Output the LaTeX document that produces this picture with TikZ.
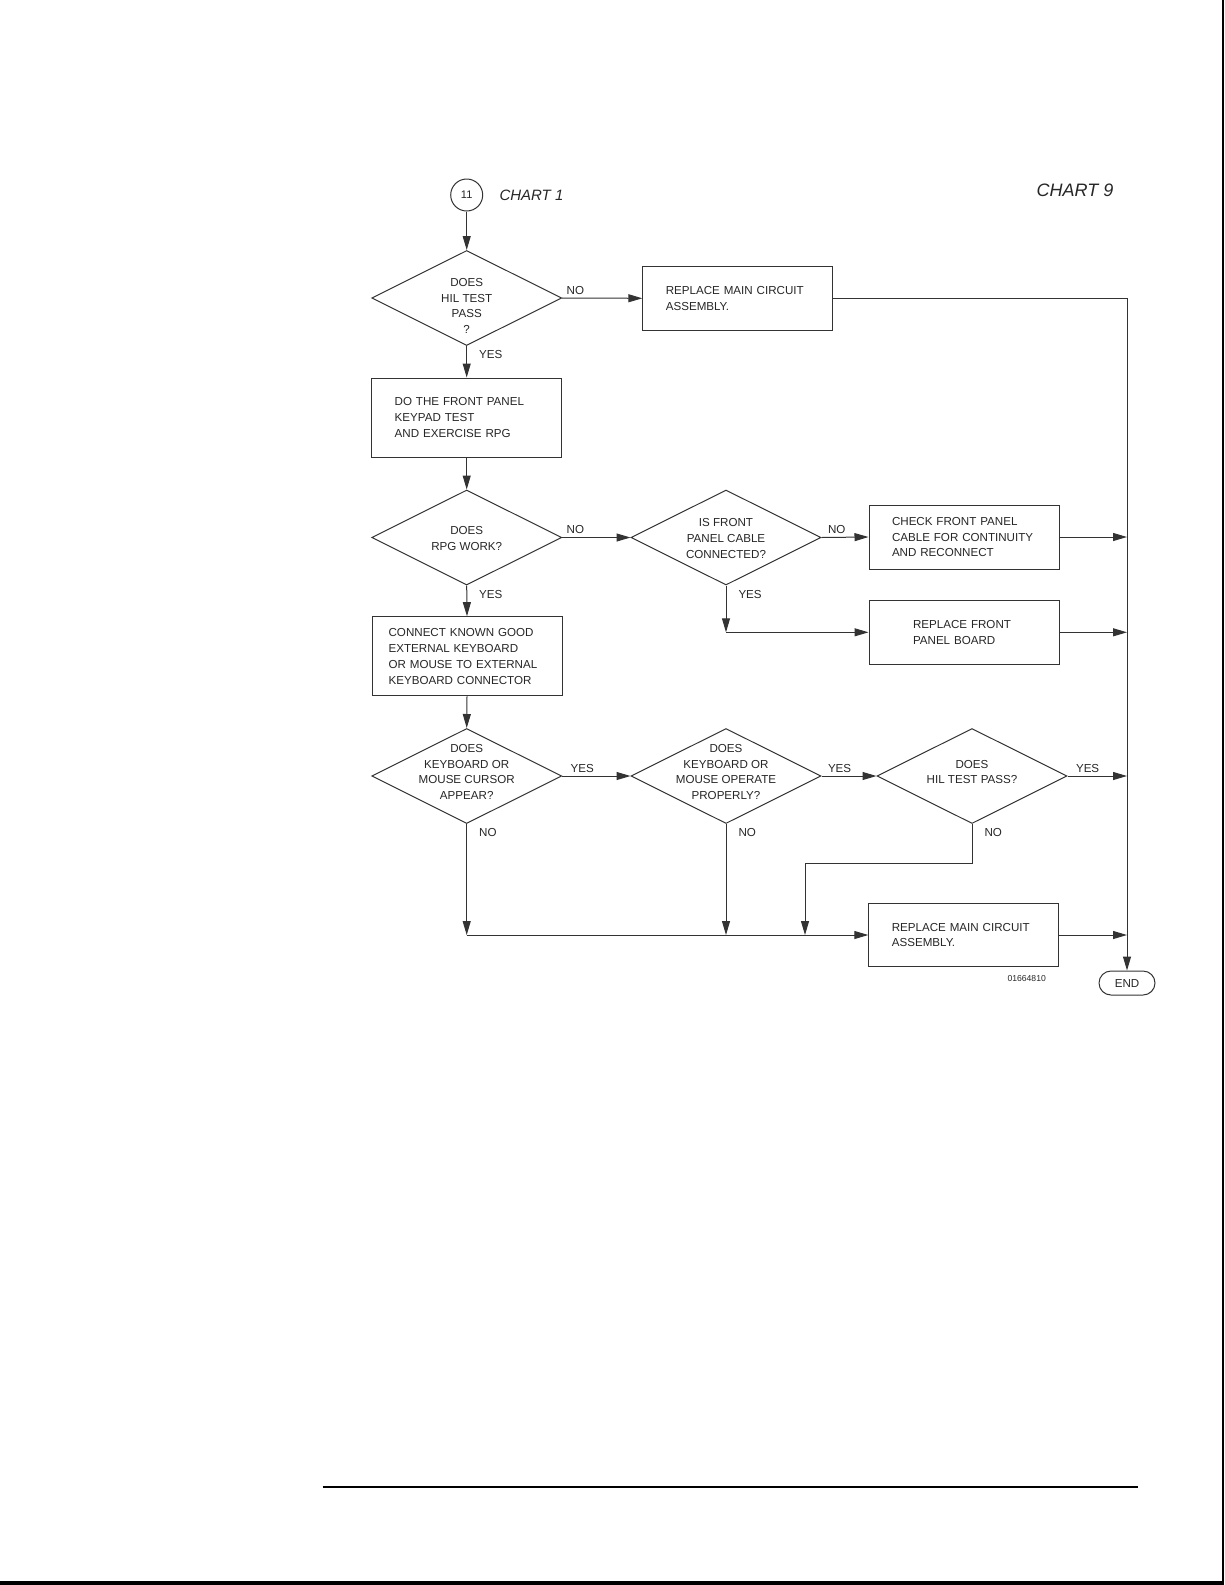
\documentclass[tikz,border=0pt]{standalone}
\usepackage{fontspec}
\setmainfont{Liberation Sans}
\usetikzlibrary{shapes.geometric,arrows.meta}
\newcommand{\tx}{\fontsize{5.8}{7.9}\selectfont}
\tikzset{
  dec/.style={diamond,draw,minimum width=95pt,minimum height=47.5pt,inner sep=0pt},
  dtxt/.style={align=center,font=\tx,inner sep=0pt},
  blk/.style={rectangle,draw,minimum height=31.7pt,inner ysep=0pt,inner xsep=11.5pt,
    text width=72pt,align=left,font=\tx},
  flag/.style={font=\tx,inner sep=1.5pt},
  arr/.style={-{Triangle[length=7pt,width=4pt]}},
}

\begin{document}
\begin{tikzpicture}[x=0.5pt,y=-0.5pt,draw=black!80,text=black!85,line width=0.5pt]
\useasboundingbox (0,0) rectangle (1225,1585);
% page frame
\draw[black,line width=1pt] (1222.5,0) -- (1222.5,1585);
\draw[black,line width=2pt] (0,1583) -- (1223.5,1583);
\draw[black,line width=1pt] (322.6,1487) -- (1138.3,1487);

\node [circle,draw,minimum size=16pt,inner sep=0pt,font=\fontsize{5.5}{6}\selectfont] (n11) at (466.7,195) {11};
\node [anchor=west,inner sep=0pt,font=\fontsize{7.5}{9}\selectfont\itshape] (c1) at (499,195) {CHART 1};
\node [inner sep=0pt,font=\fontsize{9}{11}\selectfont\itshape] (c9) at (1075,190) {CHART 9};

\node [dec,label={[dtxt,yshift=-4pt]center:DOES\\HIL TEST\\PASS\\?}] (hil) at (466.7,298) {};
\node [blk] (main) at (737.8,298.3) {REPLACE MAIN CIRCUIT\\ASSEMBLY.};
\node [blk,minimum height=39.5pt] (kpd) at (466.7,417.5) {DO THE FRONT PANEL\\KEYPAD TEST\\AND EXERCISE RPG};
\node [dec,label={[dtxt,yshift=-0.3pt]center:DOES\\RPG WORK?}] (rpg) at (466.7,537.5) {};
\node [dec,label={[dtxt,yshift=-0.5pt]center:IS FRONT\\PANEL CABLE\\CONNECTED?}] (cbl) at (726,537.5) {};
\node [blk,minimum height=32pt] (chk) at (964,537) {CHECK FRONT PANEL\\CABLE FOR CONTINUITY\\AND RECONNECT};
\node [blk,inner xsep=22pt,text width=51pt] (fpb) at (964,632.3) {REPLACE FRONT\\PANEL BOARD};
\node [blk,minimum height=39.6pt,inner xsep=8.3pt,text width=78.4pt] (ext) at (467,656.3)
  {CONNECT KNOWN GOOD\\EXTERNAL KEYBOARD\\OR MOUSE TO EXTERNAL\\KEYBOARD CONNECTOR};
\node [dec,label={[dtxt,yshift=2pt]center:DOES\\KEYBOARD OR\\MOUSE CURSOR\\APPEAR?}] (cur) at (466.7,776) {};
\node [dec,label={[dtxt,yshift=2pt]center:DOES\\KEYBOARD OR\\MOUSE OPERATE\\PROPERLY?}] (opr) at (726,776) {};
\node [dec,label={[dtxt,yshift=2pt]center:DOES\\HIL TEST PASS?}] (hil2) at (972,776) {};
\node [blk] (main2) at (963.8,935) {REPLACE MAIN CIRCUIT\\ASSEMBLY.};
\node [draw,rounded corners=6pt,minimum width=28pt,minimum height=12pt,inner sep=0pt,font=\tx] (end) at (1127,983) {END};
\node [inner sep=0pt,font=\fontsize{4.3}{5}\selectfont] (fig) at (1026.7,978.3) {01664810};
\coordinate (jog) at (805,863.3);

% branch labels
\node [flag,anchor=south west,xshift=0.5pt] (hilno) at (hil.east) {NO};
\node [flag,anchor=north west,xshift=4.5pt,yshift=-0.5pt] (hilyes) at (hil.south) {YES};
\node [flag,anchor=south west,xshift=0.5pt] (rpgno) at (rpg.east) {NO};
\node [flag,anchor=north west,xshift=4.5pt,yshift=-0.5pt] (rpgyes) at (rpg.south) {YES};
\node [flag,anchor=south west,xshift=1.5pt] (cblno) at (cbl.east) {NO};
\node [flag,anchor=north west,xshift=4.5pt,yshift=-0.5pt] (cblyes) at (cbl.south) {YES};
\node [flag,anchor=south west,xshift=2.5pt] (curyes) at (cur.east) {YES};
\node [flag,anchor=north west,xshift=4.5pt,yshift=-0.5pt] (curno) at (cur.south) {NO};
\node [flag,anchor=south west,xshift=1.5pt] (opryes) at (opr.east) {YES};
\node [flag,anchor=north west,xshift=4.5pt,yshift=-0.5pt] (oprno) at (opr.south) {NO};
\node [flag,anchor=south west,xshift=2.5pt] (hil2yes) at (hil2.east) {YES};
\node [flag,anchor=north west,xshift=4.5pt,yshift=-0.5pt] (hil2no) at (hil2.south) {NO};

% connectors
\draw[arr] (n11) -- (hil);
\draw[arr] (hil.east) -- (main.west);
\draw[arr] (hil.south) -- (kpd.north);
\draw[arr] (main.east) -| (end.north);
\draw[arr] (kpd.south) -- (rpg.north);
\draw[arr] (rpg.east) -- (cbl.west);
\draw[arr] (rpg.south) -- (ext.north);
\draw[arr] (cbl.east) -- (chk.west);
\draw[arr] (cbl.south) -- (cbl.south |- fpb.west);
\draw[arr] (cbl.south |- fpb.west) -- (fpb.west);
\draw[arr] (chk.east) -- (chk.east -| end);
\draw[arr] (fpb.east) -- (fpb.east -| end);
\draw[arr] (ext.south) -- (cur.north);
\draw[arr] (cur.east) -- (opr.west);
\draw[arr] (opr.east) -- (hil2.west);
\draw[arr] (hil2.east) -- (hil2.east -| end);
\draw[arr] (cur.south) -- (cur.south |- main2.west);
\draw[arr] (cur.south |- main2.west) -- (main2.west);
\draw[arr] (opr.south) -- (opr.south |- main2.west);
\draw[arr] (hil2.south) |- (jog) -- (jog |- main2.west);
\draw[arr] (main2.east) -- (main2.east -| end);
\end{tikzpicture}
\end{document}
